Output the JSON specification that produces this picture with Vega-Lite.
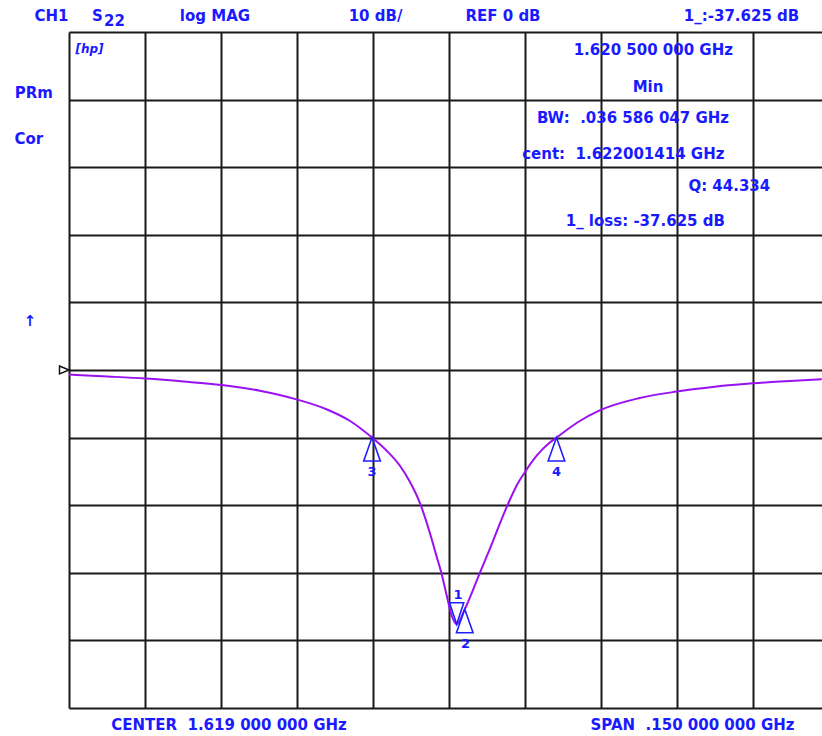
{
  "$schema": "https://vega.github.io/schema/vega-lite/v6.json",
  "autosize": {"type": "none"},
  "width": 753,
  "height": 676,
  "padding": {"left": 69, "top": 32, "right": 0, "bottom": 28},
  "background": "#ffffff",
  "config": {
    "view": {"stroke": null}
  },
  "datasets": {
    "trace": [
      {"f": 1.5440, "db": -0.68},
      {"f": 1.55164, "db": -0.96},
      {"f": 1.55914, "db": -1.27},
      {"f": 1.56664, "db": -1.70},
      {"f": 1.57414, "db": -2.22},
      {"f": 1.58164, "db": -3.06},
      {"f": 1.58908, "db": -4.38},
      {"f": 1.59480, "db": -5.80},
      {"f": 1.59940, "db": -7.51},
      {"f": 1.60380, "db": -10.0},
      {"f": 1.60664, "db": -11.9},
      {"f": 1.60927, "db": -14.13},
      {"f": 1.61124, "db": -16.5},
      {"f": 1.61322, "db": -19.61},
      {"f": 1.61519, "db": -24.04},
      {"f": 1.61651, "db": -27.50},
      {"f": 1.61750, "db": -30.06},
      {"f": 1.61849, "db": -33.2},
      {"f": 1.61947, "db": -36.2},
      {"f": 1.62050, "db": -37.6},
      {"f": 1.62210, "db": -35.4},
      {"f": 1.62506, "db": -30.06},
      {"f": 1.62703, "db": -26.51},
      {"f": 1.63033, "db": -20.35},
      {"f": 1.63230, "db": -17.15},
      {"f": 1.63400, "db": -15.08},
      {"f": 1.63625, "db": -12.72},
      {"f": 1.63888, "db": -10.73},
      {"f": 1.64020, "db": -10.0},
      {"f": 1.64440, "db": -7.73},
      {"f": 1.64894, "db": -5.91},
      {"f": 1.65644, "db": -4.18},
      {"f": 1.66394, "db": -3.19},
      {"f": 1.67144, "db": -2.47},
      {"f": 1.67894, "db": -1.97},
      {"f": 1.68624, "db": -1.61},
      {"f": 1.69255, "db": -1.38}
    ],
    "upMarkers": [
      {"n": "2", "f": 1.6221, "db": -35.4},
      {"n": "3", "f": 1.6038, "db": -10.0},
      {"n": "4", "f": 1.6402, "db": -10.0}
    ],
    "downMarkers": [
      {"n": "1", "f": 1.6205, "db": -37.6}
    ],
    "markerLabels": [
      {"t": "1", "f": 1.62077, "db": -33.28},
      {"t": "2", "f": 1.62225, "db": -40.53},
      {"t": "3", "f": 1.6038, "db": -15.09},
      {"t": "4", "f": 1.6402, "db": -15.09}
    ],
    "refMark": [
      {"f": 1.544, "db": 0}
    ],
    "notes": [
      {"t": "CH1", "f": 1.540546, "db": 51.627},
      {"t": "S", "f": 1.549624, "db": 51.627},
      {"t": "22", "f": 1.552979, "db": 50.888},
      {"t": "log MAG", "f": 1.572812, "db": 51.627},
      {"t": "10 dB/", "f": 1.604486, "db": 51.627},
      {"t": "REF 0 dB", "f": 1.629647, "db": 51.627},
      {"t": "1_:-37.625 dB", "f": 1.676713, "db": 51.627},
      {"t": "1.620 500 000 GHz", "f": 1.659309, "db": 46.598},
      {"t": "Min", "f": 1.658264, "db": 41.169},
      {"t": "BW: \u00a0.036 586 047 GHz", "f": 1.655304, "db": 36.494},
      {"t": "cent: \u00a01.622001414 GHz", "f": 1.653390, "db": 31.213},
      {"t": "Q: 44.334", "f": 1.674306, "db": 26.524},
      {"t": "1_ loss: -37.625 dB", "f": 1.657731, "db": 21.302},
      {"t": "PRm", "f": 1.537073, "db": 40.237},
      {"t": "Cor", "f": 1.536087, "db": 33.432},
      {"t": "↑", "f": 1.536304, "db": 6.509},
      {"t": "CENTER \u00a01.619 000 000 GHz", "f": 1.575575, "db": -53.254},
      {"t": "SPAN \u00a0.150 000 000 GHz", "f": 1.667045, "db": -53.254}
    ],
    "logo": [
      {"t": "[hp]", "f": 1.548046, "db": 46.893}
    ]
  },
  "encoding": {
    "x": {
      "field": "f", "type": "quantitative",
      "scale": {"domain": [1.544, 1.6926], "nice": false, "zero": false},
      "axis": {
        "values": [1.544, 1.559, 1.574, 1.589, 1.604, 1.619, 1.634, 1.649, 1.664, 1.679],
        "grid": true, "gridColor": "#1a1a1a", "gridWidth": 2, "gridOpacity": 1,
        "labels": false, "ticks": false, "domain": false, "title": null
      }
    },
    "y": {
      "field": "db", "type": "quantitative",
      "scale": {"domain": [-50, 50], "nice": false, "zero": false},
      "axis": {
        "values": [-50, -40, -30, -20, -10, 0, 10, 20, 30, 40, 50],
        "grid": true, "gridColor": "#1a1a1a", "gridWidth": 2, "gridOpacity": 1,
        "labels": false, "ticks": false, "domain": false, "title": null
      }
    }
  },
  "layer": [
    {
      "data": {"name": "trace"},
      "mark": {"type": "line", "interpolate": "monotone", "color": "#9a10f0", "strokeWidth": 2, "clip": true}
    },
    {
      "data": {"name": "upMarkers"},
      "mark": {"type": "point", "shape": "M0,0L0.355,1L-0.355,1Z", "size": 2190, "filled": false, "stroke": "#1f1fff", "strokeWidth": 1.6, "opacity": 1}
    },
    {
      "data": {"name": "downMarkers"},
      "mark": {"type": "point", "shape": "M0,0L0.33,-1L-0.33,-1Z", "size": 1849, "filled": false, "stroke": "#1f1fff", "strokeWidth": 1.6, "opacity": 1}
    },
    {
      "data": {"name": "refMark"},
      "mark": {"type": "point", "shape": "M-1,-0.42L0,0L-1,0.42Z", "size": 361, "filled": false, "stroke": "#111111", "strokeWidth": 1.5, "opacity": 1}
    },
    {
      "data": {"name": "markerLabels"},
      "mark": {"type": "text", "font": "DejaVu Sans", "fontWeight": "bold", "color": "#1a1aff", "fontSize": 13, "baseline": "middle", "align": "center"},
      "encoding": {"text": {"field": "t"}}
    },
    {
      "data": {"name": "notes"},
      "mark": {"type": "text", "font": "DejaVu Sans", "fontWeight": "bold", "color": "#1a1aff", "fontSize": 15, "baseline": "alphabetic", "align": "center"},
      "encoding": {"text": {"field": "t"}}
    },
    {
      "data": {"name": "logo"},
      "mark": {"type": "text", "font": "DejaVu Sans", "fontWeight": "bold", "color": "#1a1aff", "fontSize": 12, "fontStyle": "italic", "baseline": "alphabetic", "align": "center"},
      "encoding": {"text": {"field": "t"}}
    }
  ]
}
